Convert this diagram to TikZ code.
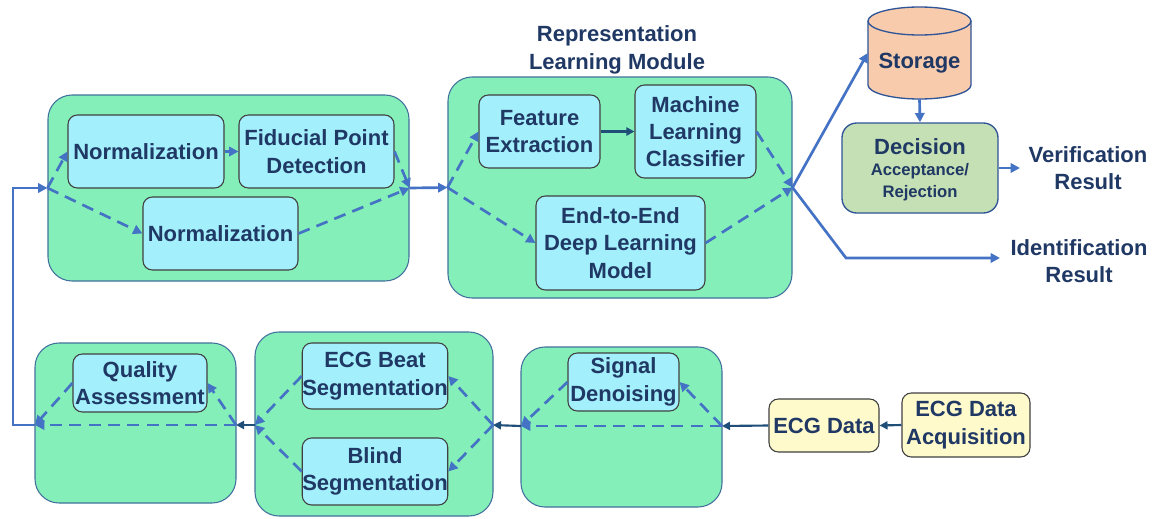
\documentclass[tikz,border=0pt]{standalone}
\usepackage{fontspec}
\setmainfont{Liberation Sans}
\usetikzlibrary{arrows.meta}

\definecolor{txtnavy}{HTML}{1F3864}
\definecolor{stagefill}{HTML}{84EFB8}
\definecolor{stageline}{HTML}{41719C}
\definecolor{procfill}{HTML}{A3EFFC}
\definecolor{flowblue}{HTML}{4472C4}
\definecolor{navyline}{HTML}{1F4E79}
\definecolor{datafill}{HTML}{FFFACC}
\definecolor{decfill}{HTML}{C5E0B4}
\definecolor{storfill}{HTML}{F8CBAD}
\definecolor{decline}{HTML}{2F5597}

\begin{document}
\begin{tikzpicture}[x=0.75pt,y=-0.75pt,
  font=\fontsize{16.5}{20.5}\selectfont\bfseries,
  every node/.style={text=txtnavy},
  sz/.style 2 args={minimum width=#1*0.75pt, minimum height=#2*0.75pt},
  stage/.style={draw=stageline, fill=stagefill, line width=0.8pt, rounded corners=18pt, inner sep=0pt},
  proc/.style={draw=black!75, fill=procfill, line width=0.8pt, rounded corners=7pt, inner sep=0pt, align=center},
  databox/.style={draw=black!75, fill=datafill, line width=0.8pt, rounded corners=7pt, inner sep=0pt, align=center},
  decbox/.style={draw=decline, fill=decfill, line width=1pt, rounded corners=11pt, inner sep=0pt},
  flowline/.style={draw=flowblue, line width=2pt},
  solidflow/.style={flowline, -{Triangle[length=7pt,width=7pt]}},
  dashflow/.style={flowline, dash pattern=on 9pt off 5.5pt, -{Triangle[length=7pt,width=7pt]}},
  navyarrow/.style={draw=navyline, line width=1.6pt, -{Triangle[length=6pt,width=6pt]}},
  small/.style={font=\fontsize{12.5}{15}\selectfont\bfseries}
]
\useasboundingbox (0,0) rectangle (1160,518);
\fill[white] (0,0) rectangle (1160,518);

% --- preprocessing stage: normalization / fiducial points
\node[stage, sz={361}{186}] (g1) at (228.5,188) {};
\node[proc, sz={156}{73}] (norm1) at (146,151.5) {Normalization};
\node[proc, sz={155}{73}] (fid) at (316.5,151.5) {Fiducial Point\\Detection};
\node[proc, sz={155}{73}] (norm2) at (220.5,233.5) {Normalization};

% --- representation learning module
\node[stage, sz={344}{221}] (g2) at (620,187.5) {};
\node[align=center, font=\fontsize{16.5}{21}\selectfont\bfseries] (rlm) at (617,50) {Representation\\Learning Module};
\node[proc, sz={121}{73}] (fe) at (539.5,131.5) {Feature\\Extraction};
\node[proc, sz={121}{93}] (mlc) at (695.5,131.5) {Machine\\Learning\\Classifier};
\node[proc, sz={169}{94}] (e2e) at (620.5,243) {End-to-End\\Deep Learning\\Model};

% --- storage cylinder
\node[sz={103}{92}, inner sep=0pt] (stor) at (919.5,53) {};
\draw[draw=decline, fill=storfill, line width=1pt]
  (868,21) -- (868,85)
  arc[start angle=180, end angle=360, x radius=38.625pt, y radius=10.5pt]
  -- (971,21)
  arc[start angle=0, end angle=180, x radius=38.625pt, y radius=10.5pt] -- cycle;
\draw[draw=decline, line width=1pt]
  (868,21) arc[start angle=180, end angle=360, x radius=38.625pt, y radius=10.5pt];
\node (storlbl) at (919.5,63) {Storage};

% --- decision
\node[decbox, sz={156}{90}] (dec) at (920,168) {};
\node (dect) at (920,147) {Decision};
\node[small] (acc) at (920,171) {Acceptance/};
\node[small] (rej) at (920,193) {Rejection};

% --- result labels
\begin{scope}
  \clip (0,0) rectangle (1145,518);
  \node[align=center] (ver) at (1088,168) {Verification\\Result};
  \node[align=center] (ident) at (1079,261) {Identification\\Result};
\end{scope}

% --- bottom row
\node[stage, sz={201}{160}] (gq) at (135.5,423) {};
\node[proc, sz={134}{58}] (qa) at (140,383) {Quality\\Assessment};
\node[stage, sz={238}{184}] (gs) at (374,424) {};
\node[proc, sz={144}{66}] (beat) at (375,376) {ECG Beat\\Segmentation};
\node[proc, sz={144}{67}] (blind) at (375,471.5) {Blind\\Segmentation};
\node[stage, sz={201}{160}] (gd) at (621.5,427) {};
\node[proc, sz={111}{58}] (den) at (623.5,382) {Signal\\Denoising};
\node[databox, sz={110}{53}] (ecg) at (824,425.5) {ECG Data};
\node[databox, sz={128}{64}] (acq) at (966,425) {ECG Data\\Acquisition};

% junction points
\coordinate (qL) at (35,425);
\coordinate (qR) at (236,425);
\coordinate (sL) at (255,425);
\coordinate (sR) at (493,425);
\coordinate (dL) at (521,426);
\coordinate (dR) at (722,426);
\coordinate (fbk) at (13,425);
\coordinate (verend) at (1020,168);
\coordinate (idbend) at (846,258);
\coordinate (idend) at (1000,258);

% --- top connectors
\draw[dashflow] (g1.west) -- (norm1.west);
\draw[solidflow] (norm1.east) -- (fid.west);
\draw[dashflow] (fid.east) -- (g1.east);
\draw[dashflow] (g1.west) -- (norm2.west);
\draw[dashflow] (norm2.east) -- (g1.east);
\draw[solidflow] (g1.east) -- (g2.west);
\draw[dashflow] (g2.west) -- (fe.west);
\draw[navyarrow] (fe.east) -- (mlc.west);
\draw[dashflow] (mlc.east) -- (g2.east);
\draw[dashflow] (g2.west) -- (e2e.west);
\draw[dashflow] (e2e.east) -- (g2.east);
\draw[solidflow] (g2.east) -- (stor.west);
\draw[solidflow] (g2.east) -- (idbend) -- (idend);
\draw[solidflow] (stor.south) -- (dec.north);
\draw[solidflow] (dec.east) -- (verend);

% --- bottom connectors
\draw[navyarrow] (acq.west) -- (ecg.east);
\draw[navyarrow] (ecg.west) -- (dR);
\draw[dashflow] (dR) -- (dL);
\draw[dashflow] (dR) -- (den.east);
\draw[dashflow] (den.west) -- (dL);
\draw[navyarrow] (dL) -- (sR);
\draw[dashflow] (sR) -- (beat.east);
\draw[dashflow] (sR) -- (blind.east);
\draw[dashflow] (beat.west) -- (sL);
\draw[dashflow] (blind.west) -- (sL);
\draw[navyarrow] (sL) -- (qR);
\draw[dashflow] (qR) -- (qa.east);
\draw[dashflow] (qa.west) -- (qL);
\draw[dashflow] (qR) -- (qL);
\draw[solidflow] (qL) -- (fbk) |- (g1.west);
\end{tikzpicture}
\end{document}
